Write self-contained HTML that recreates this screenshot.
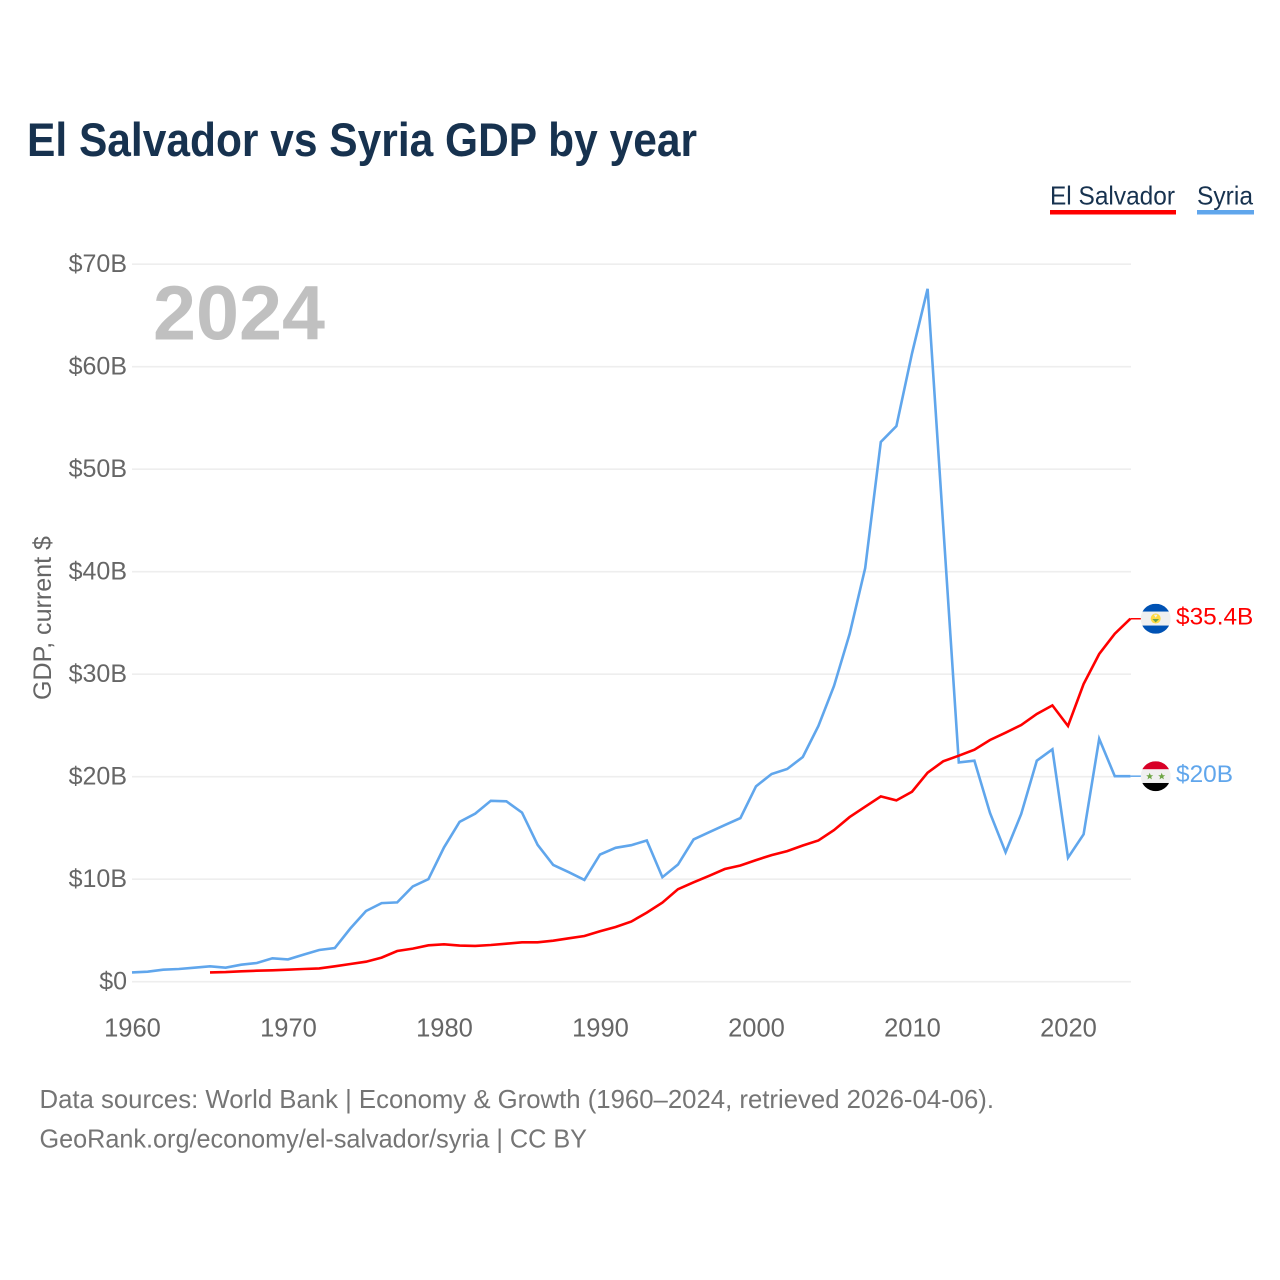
<!DOCTYPE html>
<html lang="en">
<head>
<meta charset="utf-8">
<title>El Salvador vs Syria GDP by year</title>
<style>
  html, body { margin: 0; padding: 0; background: #fff; }
  svg { display: block; font-family: "Liberation Sans", sans-serif; }
</style>
</head>
<body>
<svg id="chart" xmlns="http://www.w3.org/2000/svg" width="1280" height="1280" viewBox="0 0 1280 1280">
  <rect x="0" y="0" width="1280" height="1280" fill="#ffffff"/>
  <text x="27" y="156" font-size="47" font-weight="700" fill="#17324f" textLength="670" lengthAdjust="spacingAndGlyphs">El Salvador vs Syria GDP by year</text>

  <g>
    <text x="1050" y="204.5" font-size="26" fill="#17324f" textLength="125" lengthAdjust="spacingAndGlyphs">El Salvador</text>
    <rect x="1050" y="210" width="126" height="4.5" fill="#ff0000"/>
  </g>
  <g>
    <text x="1197" y="204.5" font-size="26" fill="#17324f" textLength="56" lengthAdjust="spacingAndGlyphs">Syria</text>
    <rect x="1197" y="210" width="57" height="4.5" fill="#60a6ec"/>
  </g>

  <text transform="translate(51,700) rotate(-90)" font-size="25" fill="#666666" textLength="164" lengthAdjust="spacingAndGlyphs">GDP, current $</text>

  <g id="grid"></g>
  <g id="yticks"></g>
  <g id="xticks"></g>

  <text x="153" y="339.5" font-size="77" font-weight="700" fill="#c0c0c0" textLength="172" lengthAdjust="spacingAndGlyphs">2024</text>

  <g id="series"></g>

  <defs>
    <clipPath id="flag-clip"><circle cx="0" cy="0" r="15"/></clipPath>
  </defs>
  <g id="flag-es">
    <g clip-path="url(#flag-clip)">
      <rect x="-15" y="-15" width="30" height="30" fill="#f0f0f0"/>
      <rect x="-15" y="-15" width="30" height="7.8" fill="#0052b4"/>
      <rect x="-15" y="6.8" width="30" height="8.2" fill="#0052b4"/>
      <circle cx="0" cy="-0.2" r="5" fill="#ffda44"/>
      <path d="M-3.4 0.2 L3.4 0.2 L0 3.6 Z" fill="#6da544"/>
      <path d="M-1.8 -4 L1.8 -4 L0 -1 Z" fill="#f0f0f0"/>
    </g>
  </g>
  <g id="flag-sy">
    <g clip-path="url(#flag-clip)">
      <rect x="-15" y="-15" width="30" height="30" fill="#f0f0f0"/>
      <rect x="-15" y="-15" width="30" height="8" fill="#d80027"/>
      <rect x="-15" y="6.8" width="30" height="8.2" fill="#000000"/>
      <polygon points="-6,-3.4 -5,-0.9 -2.5,-0.9 -4.5,0.7 -3.8,3.2 -6,1.7 -8.2,3.2 -7.5,0.7 -9.5,-0.9 -7,-0.9" fill="#6da544"/>
      <polygon points="6,-3.4 7,-0.9 9.5,-0.9 7.5,0.7 8.2,3.2 6,1.7 3.8,3.2 4.5,0.7 2.5,-0.9 5,-0.9" fill="#6da544"/>
    </g>
  </g>
  <text id="value-es" x="1176" font-size="24.4" fill="#ff0000"></text>
  <text id="value-sy" x="1176" font-size="24.4" fill="#60a6ec"></text>

  <text x="39.5" y="1108" font-size="26" fill="#757575" textLength="954.5" lengthAdjust="spacingAndGlyphs">Data sources: World Bank | Economy &amp; Growth (1960–2024, retrieved 2026-04-06).</text>
  <text x="39.5" y="1147.5" font-size="26" fill="#757575" textLength="547.5" lengthAdjust="spacingAndGlyphs">GeoRank.org/economy/el-salvador/syria | CC BY</text>
</svg>
<script>
const yTickValues = [0, 10, 20, 30, 40, 50, 60, 70];
const yTickLabels = ['$0', '$10B', '$20B', '$30B', '$40B', '$50B', '$60B', '$70B'];
const xTickYears = [1960, 1970, 1980, 1990, 2000, 2010, 2020];
const syriaStartYear = 1960;
const syriaValues = [0.91, 0.98, 1.17, 1.24, 1.37, 1.50, 1.37, 1.66, 1.82, 2.28,
  2.18, 2.64, 3.09, 3.29, 5.2, 6.9, 7.67, 7.74, 9.3, 10.0,
  13.1, 15.6, 16.4, 17.65, 17.6, 16.5, 13.36, 11.4, 10.68, 9.93,
  12.41, 13.06, 13.32, 13.78, 10.2, 11.43, 13.88, 14.59, 15.28, 15.96,
  19.06, 20.26, 20.75, 21.92, 24.95, 28.85, 33.92, 40.36, 52.65, 54.2,
  61.3, 67.6, 44.5, 21.4, 21.56, 16.46, 12.62, 16.36, 21.56, 22.67,
  12.1, 14.38, 23.7, 20.05, 20.05];
const elSalvadorStartYear = 1965;
const elSalvadorValues = [0.91, 0.94, 1.01, 1.07, 1.11,
  1.17, 1.24, 1.30, 1.50, 1.73, 1.95, 2.35, 3.0, 3.23, 3.55,
  3.65, 3.52, 3.49, 3.58, 3.71, 3.84, 3.84, 4.0, 4.23, 4.46,
  4.92, 5.34, 5.86, 6.74, 7.72, 9.02, 9.7, 10.33, 11.0, 11.34,
  11.86, 12.35, 12.74, 13.29, 13.78, 14.79, 16.06, 17.07, 18.08, 17.69,
  18.54, 20.39, 21.5, 22.05, 22.63, 23.58, 24.29, 25.04, 26.12, 26.96,
  24.95, 29.04, 31.97, 33.95, 35.41];
const elSalvadorEndLabel = '$35.4B';
const syriaEndLabel = '$20B';

const NS = 'http://www.w3.org/2000/svg';
const X0 = 132, X_PER_YEAR = 15.6, Y0 = 981.7, Y_PER_B = 10.25;
const xScale = year => X0 + (year - 1960) * X_PER_YEAR;
const yScale = v => Y0 - v * Y_PER_B;

const gridGroup = document.getElementById('grid');
const yGroup = document.getElementById('yticks');
const xGroup = document.getElementById('xticks');
const seriesGroup = document.getElementById('series');

yTickValues.forEach((v, i) => {
  const line = document.createElementNS(NS, 'line');
  
  
  line.setAttribute('x1', X0);
  line.setAttribute('x2', 1131);
  line.setAttribute('y1', yScale(v));
  line.setAttribute('y2', yScale(v));
  line.setAttribute('stroke', '#eeeeee');
  line.setAttribute('stroke-width', '1.6');
  gridGroup.appendChild(line);

  const label = document.createElementNS(NS, 'text');
  
  
  label.setAttribute('x', 127);
  label.setAttribute('y', yScale(v) + 8);
  label.setAttribute('text-anchor', 'end');
  label.setAttribute('font-size', '25');
  label.setAttribute('fill', '#666666');
  label.textContent = yTickLabels[i];
  yGroup.appendChild(label);
});

xTickYears.forEach(year => {
  const label = document.createElementNS(NS, 'text');
  
  
  label.setAttribute('x', xScale(year) + 0.5);
  label.setAttribute('y', 1036.5);
  label.setAttribute('text-anchor', 'middle');
  label.setAttribute('font-size', '25.5');
  label.setAttribute('fill', '#666666');
  label.textContent = String(year);
  xGroup.appendChild(label);
});

function linePoints(startYear, values) {
  return values.map((v, i) => xScale(startYear + i).toFixed(1) + ',' + yScale(v).toFixed(1)).join(' ');
}

const syriaLine = document.createElementNS(NS, 'polyline');


syriaLine.setAttribute('points', linePoints(syriaStartYear, syriaValues));
syriaLine.setAttribute('fill', 'none');
syriaLine.setAttribute('stroke', '#60a6ec');
syriaLine.setAttribute('stroke-width', '2.6');
seriesGroup.appendChild(syriaLine);

const salvadorLine = document.createElementNS(NS, 'polyline');


salvadorLine.setAttribute('points', linePoints(elSalvadorStartYear, elSalvadorValues));
salvadorLine.setAttribute('fill', 'none');
salvadorLine.setAttribute('stroke', '#ff0000');
salvadorLine.setAttribute('stroke-width', '2.6');
seriesGroup.appendChild(salvadorLine);

const syriaLast = yScale(syriaValues[syriaValues.length - 1]);
const salvadorLast = yScale(elSalvadorValues[elSalvadorValues.length - 1]);

const syriaConnector = document.createElementNS(NS, 'line');


syriaConnector.setAttribute('x1', xScale(2024));
syriaConnector.setAttribute('x2', 1141);
syriaConnector.setAttribute('y1', syriaLast);
syriaConnector.setAttribute('y2', syriaLast);
syriaConnector.setAttribute('stroke', '#60a6ec');
syriaConnector.setAttribute('stroke-width', '1.5');
seriesGroup.appendChild(syriaConnector);

const salvadorConnector = document.createElementNS(NS, 'line');


salvadorConnector.setAttribute('x1', xScale(2024));
salvadorConnector.setAttribute('x2', 1141);
salvadorConnector.setAttribute('y1', salvadorLast);
salvadorConnector.setAttribute('y2', salvadorLast);
salvadorConnector.setAttribute('stroke', '#ff0000');
salvadorConnector.setAttribute('stroke-width', '1.5');
seriesGroup.appendChild(salvadorConnector);

document.getElementById('flag-es').setAttribute('transform', 'translate(1155.7,' + salvadorLast + ')');
document.getElementById('flag-sy').setAttribute('transform', 'translate(1155.7,' + syriaLast + ')');

const valueEs = document.getElementById('value-es');
valueEs.setAttribute('y', salvadorLast + 6);
valueEs.textContent = elSalvadorEndLabel;
const valueSy = document.getElementById('value-sy');
valueSy.setAttribute('y', syriaLast + 6);
valueSy.textContent = syriaEndLabel;
</script>
</body>
</html>
